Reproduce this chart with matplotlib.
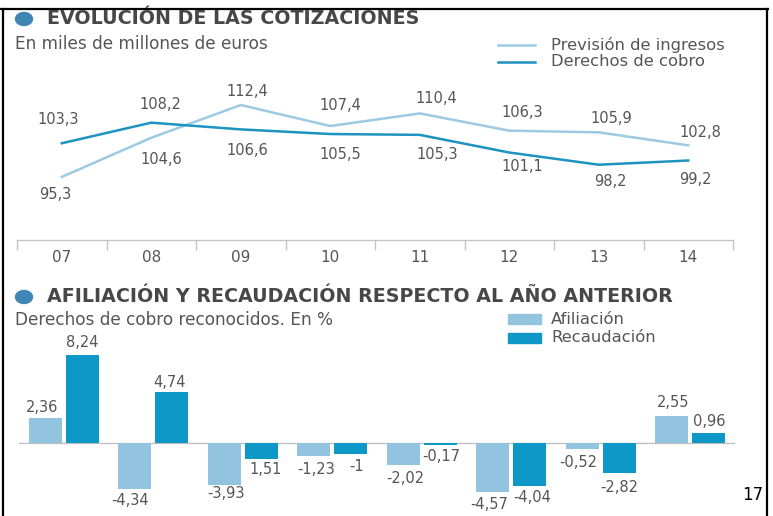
import matplotlib.pyplot as plt
from matplotlib.lines import Line2D
from matplotlib.patches import Rectangle, Ellipse
import numpy as np

# the scanned original is stretched sideways, so use the wide DejaVu Sans
plt.rcParams['font.family'] = ['DejaVu Sans']

years = ["07", "08", "09", "10", "11", "12", "13", "14"]
prevision = [95.3, 104.6, 112.4, 107.4, 110.4, 106.3, 105.9, 102.8]
derechos = [103.3, 108.2, 106.6, 105.5, 105.3, 101.1, 98.2, 99.2]

afiliacion = [2.36, -4.34, -3.93, -1.23, -2.02, -4.57, -0.52, 2.55]
recaudacion = [8.24, 4.74, -1.51, -1.00, -0.17, -4.04, -2.82, 0.96]
# labels as printed in the original (note "1,51" and "-1")
recaudacion_labels = ["8,24", "4,74", "1,51", "-1", "-0,17", "-4,04", "-2,82", "0,96"]

W, H = 773, 516
light = "#93c4df"
dark = "#0e98c8"
line_light = "#9ccae3"
line_dark = "#1d93bf"
grey = "#555555"
title_col = "#474747"
lab_fs = 10.5


def fx(px):
    return px / W


def fy(py):
    return 1 - py / H


def fmt(v, d):
    return f"{v:.{d}f}".replace(".", ",")


fig = plt.figure(figsize=(W / 100, H / 100), dpi=100)

# ---- top: line chart
ax1 = fig.add_axes([fx(17), fy(240), fx(733) - fx(17), fy(60) - fy(240)])
x = np.arange(len(years))
ax1.plot(x, prevision, color=line_light, lw=1.8)
ax1.plot(x, derechos, color=line_dark, lw=1.8)
ax1.set_xlim(-0.5, 7.5)
ax1.set_ylim(80.3, 123.1)
for s in ["top", "left", "right"]:
    ax1.spines[s].set_visible(False)
ax1.spines["bottom"].set_color("#c4c4c4")
ax1.spines["bottom"].set_linewidth(1)
ax1.set_xticks(x, years)
ax1.set_xticks(np.arange(-0.5, 8, 1), minor=True)
ax1.tick_params(axis="x", which="major", length=0, pad=7, labelsize=11, labelcolor=grey)
ax1.tick_params(axis="x", which="minor", length=7, width=1, color="#c4c4c4")
ax1.set_yticks([])

# label offsets in pixels (dx, dy downwards)
prev_off = [(-7, 18), (10, 22), (7, -13), (10, -21), (17, -15), (13, -18), (13, -14), (12, -13)]
der_off = [(-4, -24), (9, -18), (7, 21), (10, 20), (17, 20), (13, 14), (12, 17), (7, 19)]
for i in range(len(years)):
    for vals, off in ((prevision, prev_off), (derechos, der_off)):
        ax1.annotate(fmt(vals[i], 1), (i, vals[i]), xytext=(off[i][0], -off[i][1]),
                     textcoords="offset pixels", ha="center", va="center",
                     fontsize=lab_fs, color=grey)

# legend top
fig.add_artist(Line2D([fx(498), fx(535)], [fy(45), fy(45)], color=line_light, lw=1.8))
fig.add_artist(Line2D([fx(498), fx(535)], [fy(62), fy(62)], color=line_dark, lw=1.8))
fig.text(fx(551), fy(45), "Previsión de ingresos", fontsize=11.8, color=grey, va="center")
fig.text(fx(551), fy(62), "Derechos de cobro", fontsize=11.8, color=grey, va="center")

# ---- bottom: bars
ax2 = fig.add_axes([fx(19), 0, fx(735) - fx(19), fy(340)])
bw = 0.37
off = 0.207
ax2.bar(x - off, afiliacion, bw, color=light)
ax2.bar(x + off, recaudacion, bw, color=dark)
ax2.axhline(0, color="#bdbdbd", lw=0.9, zorder=0)
ax2.set_xlim(-0.5, 7.5)
ax2.set_ylim(-6.84, 9.64)
ax2.axis("off")

afi_off = [(-3, -10), (-5, 11), (2, 9), (2, 13), (2, 14), (-4, 13), (-4, 14), (1, -13)]
rec_off = [(0, -12), (-2, -10), (4, 10), (6, 13), (1, 12), (2, 11), (0, 14), (0, -11)]
for i in range(len(years)):
    ax2.annotate(fmt(afiliacion[i], 2), (i - off, afiliacion[i]),
                 xytext=(afi_off[i][0], -afi_off[i][1]), textcoords="offset pixels",
                 ha="center", va="center", fontsize=lab_fs, color=grey)
    ax2.annotate(recaudacion_labels[i], (i + off, recaudacion[i]),
                 xytext=(rec_off[i][0], -rec_off[i][1]), textcoords="offset pixels",
                 ha="center", va="center", fontsize=lab_fs, color=grey)

# legend bottom
fig.add_artist(Rectangle((fx(508), fy(324)), fx(541) - fx(508), fy(314) - fy(324),
                         transform=fig.transFigure, color=light))
fig.add_artist(Rectangle((fx(508), fy(343)), fx(541) - fx(508), fy(333) - fy(343),
                         transform=fig.transFigure, color=dark))
fig.text(fx(551), fy(319), "Afiliación", fontsize=11.8, color=grey, va="center")
fig.text(fx(551), fy(338), "Recaudación", fontsize=11.8, color=grey, va="center")

# ---- titles
for ty, title, sy, sub in ((19, "EVOLUCIÓN DE LAS COTIZACIONES", 44, "En miles de millones de euros"),
                           (297, "AFILIACIÓN Y RECAUDACIÓN RESPECTO AL AÑO ANTERIOR", 320,
                            "Derechos de cobro reconocidos. En %")):
    fig.add_artist(Ellipse((fx(24), fy(ty)), fx(17), 13 / H, transform=fig.transFigure,
                           color="#3f86b5"))
    fig.text(fx(47), fy(ty), title, fontsize=13.7, fontweight="bold", color=title_col,
             va="center")
    fig.text(fx(15), fy(sy), sub, fontsize=12.2, color=grey, va="center")

# page number and frame
fig.text(fx(753), fy(495), "17", fontsize=12, color="black", ha="center", va="center")
for xs, ys in (([3, 3], [9, 516]), ([0, 768], [9, 9]), ([767, 767], [9, 516])):
    fig.add_artist(Line2D([fx(v) for v in xs], [fy(v) for v in ys], color="black", lw=1.6))

fig.savefig("out.png", dpi=100)
